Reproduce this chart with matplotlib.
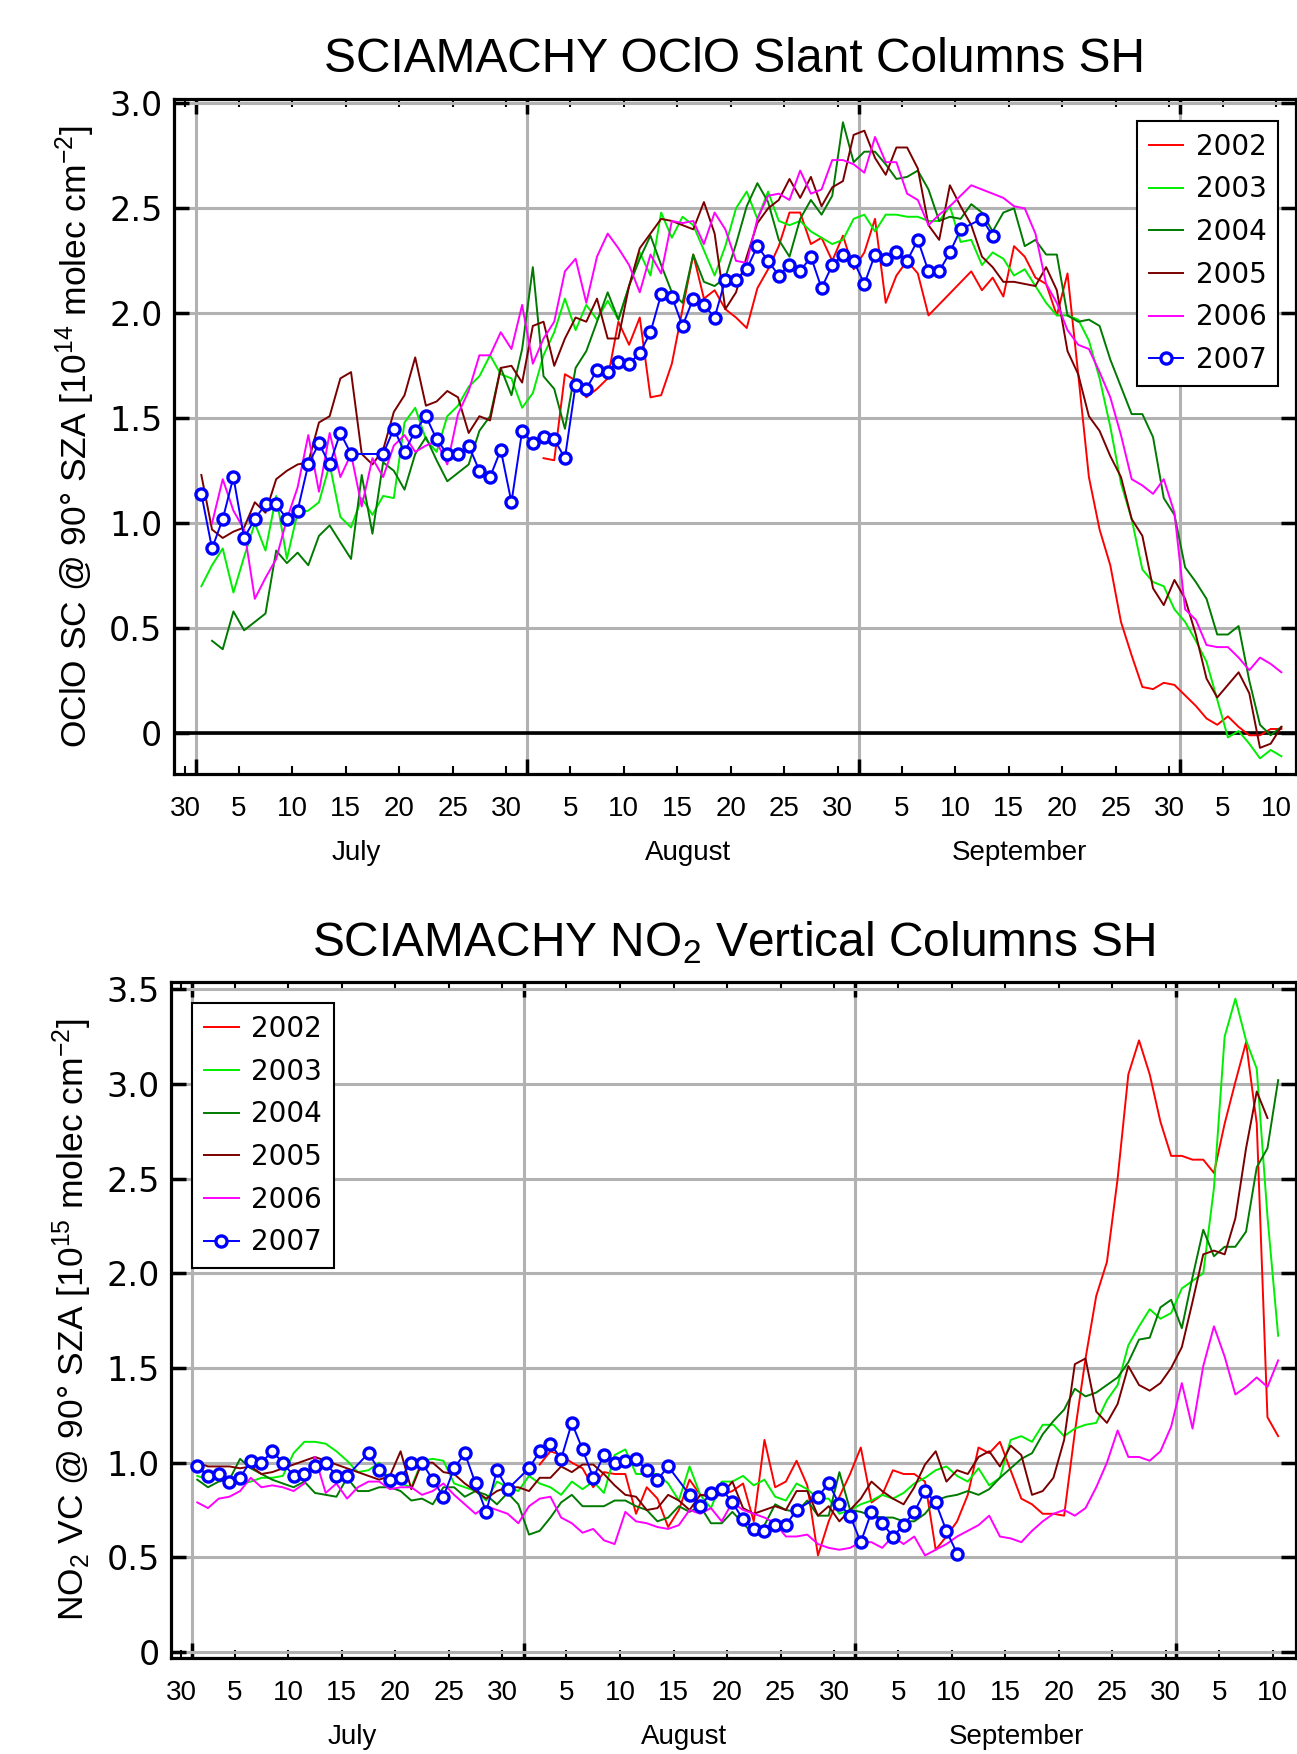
import datetime as dt

import matplotlib
matplotlib.use('Agg')
from matplotlib import pyplot as plt
from matplotlib import dates as mdates
from matplotlib.ticker import FuncFormatter

plt.rcParams['font.family'] = ['Liberation Sans', 'DejaVu Sans']
plt.rcParams['mathtext.fontset'] = 'custom'
plt.rcParams['mathtext.rm'] = 'Liberation Sans'
plt.rcParams['mathtext.it'] = 'Liberation Sans:italic'

years = ['2002', '2003', '2004', '2005', '2006', '2007']
colors = ['#ff0000', '#00ee00', '#007a00', '#7a0000', '#ff00ff', '#0000ff']

# one value per day, 1 July ... 10 October
dates = [dt.datetime(2001, 7, 1, 12) + dt.timedelta(days=i) for i in range(102)]
N = None

oclo_2002 = [N] * 32 + [
    1.31, 1.30, 1.71, 1.68, 1.60, 1.64, 1.69, 1.96,
    1.85, 1.98, 1.60, 1.61, 1.76, 2.02, 2.28, 2.07, 2.11, 2.02,
    1.98, 1.93, 2.12, 2.21, 2.32, 2.48, 2.48, 2.33, 2.36, 2.25,
    2.37, 2.21, 2.29, 2.45, 2.05, 2.18, 2.25, 2.19, 1.99, N,
    N, N, 2.20, 2.11, 2.17, 2.08, 2.32, 2.27, 2.17, 2.14,
    1.99, 2.19, 1.71, 1.22, 0.97, 0.80, 0.53, 0.37, 0.22, 0.21,
    0.24, 0.23, 0.18, 0.13, 0.07, 0.04, 0.08, 0.03, -0.01, -0.01,
    0.02, 0.02]
oclo_2003 = [
    0.70, 0.80, 0.88, 0.67, 0.84, 1.00, 0.87, 1.13, 0.83, 1.05,
    1.06, 1.10, 1.28, 1.03, 0.98, 1.12, 1.04, 1.13, 1.12, 1.48,
    1.55, 1.40, 1.34, 1.51, 1.56, 1.65, 1.70, 1.80, 1.71, 1.69,
    1.55, 1.62, 1.80, 1.91, 2.07, 1.92, 2.04, 1.97, 2.06, 1.97,
    2.13, 2.29, 2.18, 2.48, 2.36, 2.46, 2.42, 2.30, 2.18, 2.32,
    2.50, 2.58, 2.45, 2.58, 2.44, 2.42, 2.44, 2.39, 2.36, 2.33,
    2.35, 2.45, 2.47, 2.39, 2.47, 2.47, 2.46, 2.46, 2.44, 2.44,
    2.51, 2.34, 2.35, 2.23, 2.29, 2.26, 2.18, 2.21, 2.13, 2.05,
    1.99, 1.99, 1.97, 1.87, 1.69, 1.46, 1.19, 1.02, 0.78, 0.72,
    0.70, 0.59, 0.53, 0.44, 0.34, 0.16, -0.02, 0.01, -0.05, -0.12,
    -0.08, -0.11]
oclo_2004 = [
    N, 0.44, 0.40, 0.58, 0.49, 0.53, 0.57, 0.87, 0.81, 0.86,
    0.80, 0.94, 0.99, 0.91, 0.83, 1.23, 0.95, 1.29, 1.25, 1.16,
    1.33, 1.41, 1.30, 1.20, 1.24, 1.28, 1.44, 1.51, 1.74, 1.61,
    1.83, 2.22, 1.70, 1.64, 1.45, 1.74, 1.82, 1.96, 2.10, 1.97,
    2.13, 2.26, 2.37, 2.23, 2.10, 2.05, 2.28, 2.15, 2.13, 2.17,
    2.33, 2.51, 2.62, 2.53, 2.35, 2.27, 2.45, 2.54, 2.47, 2.56,
    2.91, 2.72, 2.77, 2.77, 2.71, 2.64, 2.65, 2.68, 2.59, 2.44,
    2.46, 2.45, 2.52, 2.48, 2.39, 2.48, 2.50, 2.32, 2.35, 2.28,
    2.28, 1.99, 1.96, 1.97, 1.94, 1.78, 1.65, 1.52, 1.52, 1.41,
    1.12, 1.04, 0.79, 0.72, 0.64, 0.47, 0.47, 0.51, 0.25, 0.04,
    -0.01, 0.03]
oclo_2005 = [
    1.23, 0.97, 0.93, 0.96, 0.98, 1.10, 1.05, 1.21, 1.25, 1.28,
    1.29, 1.48, 1.51, 1.69, 1.72, 1.33, 1.28, 1.35, 1.53, 1.61,
    1.79, 1.56, 1.58, 1.63, 1.60, 1.43, 1.51, 1.49, 1.74, 1.75,
    1.67, 1.94, 1.96, 1.75, 1.88, 1.98, 1.96, 2.07, 1.88, 1.88,
    2.13, 2.31, 2.38, 2.45, 2.44, 2.42, 2.40, 2.53, 2.38, 2.02,
    2.10, 2.27, 2.43, 2.50, 2.54, 2.64, 2.55, 2.65, 2.51, 2.60,
    2.63, 2.85, 2.87, 2.74, 2.66, 2.79, 2.79, 2.69, 2.42, 2.35,
    2.61, 2.51, 2.42, 2.27, 2.22, 2.15, 2.15, 2.14, 2.13, 2.22,
    2.11, 1.82, 1.71, 1.51, 1.44, 1.32, 1.22, 1.02, 0.94, 0.69,
    0.61, 0.73, 0.64, 0.47, 0.26, 0.17, 0.23, 0.29, 0.19, -0.07,
    -0.05, 0.03]
oclo_2006 = [
    N, 1.00, 1.21, 1.06, 0.97, 0.64, 0.74, 0.83, 1.02, 1.17,
    1.42, 1.15, 1.43, 1.22, 1.33, 1.08, 1.31, 1.22, 1.37, 1.42,
    1.34, 1.37, 1.39, 1.28, 1.52, 1.63, 1.80, 1.80, 1.91, 1.83,
    2.04, 1.76, 1.88, 1.96, 2.20, 2.26, 2.05, 2.27, 2.38, 2.31,
    2.23, 2.10, 2.28, 2.19, 2.44, 2.43, 2.44, 2.33, 2.48, 2.40,
    2.25, 2.24, 2.45, 2.56, 2.57, 2.54, 2.68, 2.57, 2.59, 2.73,
    2.73, 2.71, 2.67, 2.84, 2.72, 2.72, 2.57, 2.54, 2.42, 2.47,
    2.51, 2.56, 2.61, 2.59, 2.57, 2.55, 2.51, 2.50, 2.38, 2.14,
    2.05, 1.92, 1.85, 1.83, 1.72, 1.60, 1.42, 1.21, 1.18, 1.14,
    1.21, 1.05, 0.59, 0.54, 0.42, 0.41, 0.41, 0.36, 0.30, 0.36,
    0.33, 0.29]
oclo_2007 = [
    1.14, 0.88, 1.02, 1.22, 0.93, 1.02, 1.09, 1.09, 1.02, 1.06,
    1.28, 1.38, 1.28, 1.43, 1.33, N, N, 1.33, 1.45, 1.34,
    1.44, 1.51, 1.40, 1.33, 1.33, 1.37, 1.25, 1.22, 1.35, 1.10,
    1.44, 1.38, 1.41, 1.40, 1.31, 1.66, 1.64, 1.73, 1.72, 1.77,
    1.76, 1.81, 1.91, 2.09, 2.08, 1.94, 2.07, 2.04, 1.98, 2.16,
    2.16, 2.21, 2.32, 2.25, 2.18, 2.23, 2.20, 2.27, 2.12, 2.23,
    2.28, 2.25, 2.14, 2.28, 2.26, 2.29, 2.25, 2.35, 2.20, 2.20,
    2.29, 2.40, N, 2.45, 2.37]

no2_2002 = [N] * 32 + [
    0.99, 1.06, 1.04, 1.00, 0.97, 0.87, 0.95, 0.94,
    0.94, 0.73, 0.87, 0.81, 0.66, 0.75, 0.91, 0.83, 0.83, 0.83,
    0.85, 0.89, 0.69, 1.12, 0.87, 0.90, 1.01, 0.88, 0.51, 0.69,
    0.82, 0.94, 1.08, 0.79, 0.83, 0.96, 0.94, 0.94, 0.90, 0.54,
    0.61, 0.69, 0.83, 1.08, 1.05, 1.11, 0.96, 0.81, 0.78, 0.73,
    0.73, 0.72, 1.16, 1.55, 1.88, 2.06, 2.50, 3.05, 3.23, 3.05,
    2.80, 2.62, 2.62, 2.60, 2.60, 2.53, 2.79, 3.01, 3.22, 2.79,
    1.24, 1.14]
no2_2003 = [
    0.93, 0.91, 0.92, 0.90, 0.89, 0.90, 0.92, 0.92, 0.93, 1.05,
    1.11, 1.11, 1.10, 1.06, 1.01, 0.95, 0.96, 1.00, 0.90, 0.89,
    0.87, 1.01, 1.02, 1.01, 0.89, 0.87, 0.85, 0.80, 0.90, 0.87,
    0.85, 0.93, 0.89, 0.87, 0.83, 0.90, 0.86, 0.90, 0.84, 1.04,
    1.07, 0.94, 0.94, 0.94, 0.89, 0.80, 0.98, 0.83, 0.76, 0.90,
    0.90, 0.93, 0.88, 0.91, 0.82, 0.80, 0.89, 0.86, 0.81, 0.81,
    0.73, 0.75, 0.78, 0.80, 0.83, 0.81, 0.84, 0.89, 0.92, 0.96,
    0.98, 0.93, 0.90, 0.97, 0.88, 0.92, 1.12, 1.14, 1.11, 1.20,
    1.20, 1.14, 1.18, 1.20, 1.21, 1.33, 1.41, 1.62, 1.72, 1.81,
    1.76, 1.79, 1.92, 1.96, 2.00, 2.45, 3.25, 3.45, 3.23, 3.08,
    2.30, 1.67]
no2_2004 = [
    0.91, 0.87, 0.90, 0.91, 1.02, 0.97, 0.94, 0.91, 0.89, 0.87,
    0.90, 0.84, 0.83, 0.82, 0.92, 0.85, 0.85, 0.87, 0.87, 0.85,
    0.80, 0.81, 0.78, 0.87, 0.87, 0.82, 0.85, 0.83, 0.78, 0.84,
    0.78, 0.62, 0.64, 0.71, 0.79, 0.83, 0.77, 0.77, 0.77, 0.80,
    0.80, 0.77, 0.75, 0.69, 0.71, 0.77, 0.74, 0.77, 0.68, 0.68,
    0.74, 0.68, 0.62, 0.67, 0.78, 0.75, 0.74, 0.80, 0.72, 0.72,
    0.95, 0.75, 0.74, 0.72, 0.71, 0.71, 0.69, 0.69, 0.73, 0.80,
    0.82, 0.83, 0.85, 0.83, 0.86, 0.92, 0.97, 1.02, 1.05, 1.15,
    1.22, 1.28, 1.39, 1.35, 1.37, 1.41, 1.45, 1.53, 1.65, 1.66,
    1.82, 1.86, 1.71, 1.98, 2.23, 2.09, 2.14, 2.14, 2.22, 2.56,
    2.66, 3.02]
no2_2005 = [
    1.00, 0.98, 0.98, 0.98, 0.97, 0.98, 0.94, 0.95, 0.97, 0.99,
    1.01, 1.03, 1.01, 0.99, 0.97, 0.95, 0.93, 0.91, 0.93, 1.06,
    0.86, 1.00, 1.00, 0.95, 0.94, 0.89, 0.85, 0.81, 0.85, 0.87,
    0.87, 0.85, 0.92, 0.92, 0.98, 0.95, 0.99, 0.99, 0.94, 0.88,
    0.83, 0.82, 0.75, 0.76, 0.83, 0.80, 0.75, 0.83, 0.82, 0.83,
    0.90, 0.76, 0.73, 0.75, 0.77, 0.75, 0.85, 0.85, 0.72, 0.77,
    0.69, 0.75, 0.81, 0.90, 0.85, 0.81, 0.78, 0.87, 0.99, 1.06,
    0.90, 0.96, 0.94, 1.03, 1.06, 0.98, 1.09, 1.04, 0.83, 0.85,
    0.92, 1.12, 1.52, 1.55, 1.27, 1.21, 1.31, 1.51, 1.41, 1.38,
    1.42, 1.50, 1.61, 1.85, 2.10, 2.12, 2.10, 2.29, 2.66, 2.96,
    2.82]
no2_2006 = [
    0.79, 0.76, 0.81, 0.82, 0.85, 0.92, 0.87, 0.88, 0.87, 0.85,
    0.89, 1.03, 0.84, 0.89, 0.81, 0.87, 0.90, 0.90, 0.86, 0.87,
    0.87, 0.83, 0.85, 0.89, 0.83, 0.78, 0.73, 0.77, 0.75, 0.73,
    0.68, 0.77, 0.81, 0.82, 0.71, 0.68, 0.63, 0.65, 0.59, 0.57,
    0.74, 0.69, 0.68, 0.66, 0.65, 0.67, 0.75, 0.73, 0.76, 0.69,
    0.79, 0.75, 0.73, 0.71, 0.68, 0.61, 0.61, 0.62, 0.57, 0.55,
    0.54, 0.55, 0.58, 0.58, 0.55, 0.61, 0.57, 0.61, 0.51, 0.54,
    0.57, 0.61, 0.64, 0.67, 0.72, 0.61, 0.60, 0.58, 0.64, 0.69,
    0.73, 0.75, 0.72, 0.76, 0.87, 1.00, 1.17, 1.03, 1.03, 1.01,
    1.06, 1.19, 1.42, 1.18, 1.51, 1.72, 1.56, 1.36, 1.40, 1.45,
    1.40, 1.54]
no2_2007 = [
    0.98, 0.93, 0.94, 0.90, 0.92, 1.01, 1.00, 1.06, 1.00, 0.93,
    0.94, 0.98, 1.00, 0.93, 0.93, N, 1.05, 0.96, 0.91, 0.92,
    1.00, 1.00, 0.91, 0.82, 0.97, 1.05, 0.89, 0.74, 0.96, 0.86,
    N, 0.97, 1.06, 1.10, 1.02, 1.21, 1.07, 0.92, 1.04, 1.00,
    1.01, 1.02, 0.96, 0.91, 0.98, N, 0.83, 0.77, 0.84, 0.86,
    0.79, 0.70, 0.65, 0.64, 0.67, 0.67, 0.75, N, 0.82, 0.89,
    0.78, 0.72, 0.58, 0.74, 0.68, 0.61, 0.67, 0.74, 0.85, 0.79,
    0.64, 0.52]

month_names = ['July', 'August', 'September']
month_mid = [dt.datetime(2001, 7, 16), dt.datetime(2001, 8, 16), dt.datetime(2001, 9, 16)]

GRID = '#b2b2b2'


def draw_panel(ax, series, yticks, ylim, xlim, title, ylabel, legend_loc, legend_anchor):
    for year, color, values in zip(years, colors, series):
        pts = [(d, v) for d, v in zip(dates, values) if v is not None]
        x = [p[0] for p in pts]
        y = [p[1] for p in pts]
        if year == '2007':
            ax.plot(x, y, color=color, lw=1.4, marker='o', ms=8, mfc='white',
                    mec=color, mew=2.4, label=year, zorder=5)
        else:
            ax.plot(x, y, color=color, lw=1.4, label=year, zorder=4)

    ax.set_xlim(xlim)
    ax.set_ylim(ylim)

    ax.xaxis.set_major_locator(mdates.DayLocator(bymonthday=[5, 10, 15, 20, 25, 30]))
    ax.xaxis.set_major_formatter(FuncFormatter(lambda v, pos: str(mdates.num2date(v).day)))
    ax.xaxis.set_minor_locator(mdates.MonthLocator())
    ax.set_yticks(yticks)
    ax.yaxis.set_major_formatter(FuncFormatter(lambda v, pos: '0' if v == 0 else '%.1f' % v))

    ax.grid(True, which='minor', axis='x', color=GRID, lw=2.2, zorder=0)
    ax.grid(True, which='major', axis='y', color=GRID, lw=2.2, zorder=0)
    ax.set_axisbelow(True)

    ax.tick_params(axis='x', which='major', direction='in', length=6, width=1.5,
                   top=True, bottom=True, pad=16, labelsize=20)
    ax.tick_params(axis='x', which='minor', direction='in', length=11, width=2.5,
                   top=True, bottom=True)
    ax.tick_params(axis='y', which='major', direction='in', length=11, width=2.5,
                   left=True, right=True, pad=8, labelsize=24)
    for lab in ax.get_yticklabels():
        lab.set_family('DejaVu Sans')
    for sp in ax.spines.values():
        sp.set_linewidth(2.3)

    for name, mid in zip(month_names, month_mid):
        ax.text(mdates.date2num(mid), -0.117, name, transform=ax.get_xaxis_transform(),
                ha='center', va='center', fontsize=20)

    ax.set_title(title, fontsize=34.5, pad=19)
    ax.set_ylabel(ylabel, fontsize=25.5, labelpad=9)

    leg = ax.legend(loc=legend_loc, bbox_to_anchor=legend_anchor, borderaxespad=0,
                    fancybox=False, framealpha=1, edgecolor='black',
                    prop={'family': 'DejaVu Sans', 'size': 20},
                    handlelength=1.25, handletextpad=0.45, labelspacing=0.53,
                    borderpad=0.42)
    leg.get_frame().set_linewidth(1.5)
    leg.set_zorder(10)


fig = plt.figure(figsize=(12.97, 17.54), dpi=100)

ax1 = fig.add_axes([0.1338, 0.5589, 0.8657, 0.3849])
t0 = mdates.date2num(dt.datetime(2001, 7, 1))
draw_panel(ax1, [oclo_2002, oclo_2003, oclo_2004, oclo_2005, oclo_2006, oclo_2007],
           [0, 0.5, 1.0, 1.5, 2.0, 2.5, 3.0], (-0.193, 3.023), (t0 - 2.1, t0 + 102.9),
           'SCIAMACHY OClO Slant Columns SH',
           'OClO SC @ 90° SZA [10$^{14}$ molec cm$^{-2}$]',
           'upper right', (0.984, 0.967))
ax1.axhline(0, color='black', lw=2.6, zorder=3)

ax2 = fig.add_axes([0.1318, 0.0548, 0.8677, 0.3852])
draw_panel(ax2, [no2_2002, no2_2003, no2_2004, no2_2005, no2_2006, no2_2007],
           [0, 0.5, 1.0, 1.5, 2.0, 2.5, 3.0, 3.5], (-0.031, 3.537), (t0 - 1.96, t0 + 103.2),
           'SCIAMACHY NO$_2$ Vertical Columns SH',
           'NO$_2$ VC @ 90° SZA [10$^{15}$ molec cm$^{-2}$]',
           'upper left', (0.019, 0.969))

fig.savefig('out.png', dpi=100)
